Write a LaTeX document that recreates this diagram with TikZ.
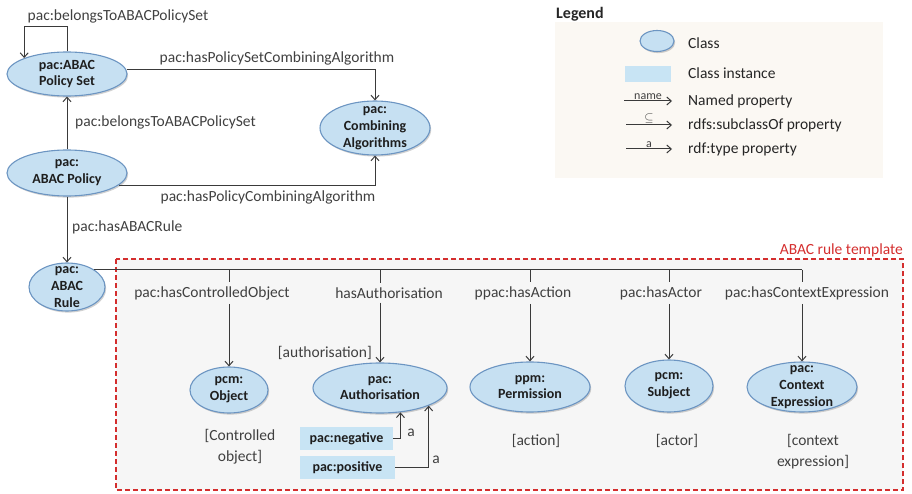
\documentclass[tikz,border=0pt]{standalone}
\usepackage{fontspec}
\setmainfont{Carlito}
\usetikzlibrary{shapes.geometric,arrows.meta,shadows,calc}
\definecolor{clsfill}{HTML}{C6E0F2}
\definecolor{clsline}{HTML}{6C95C2}
\definecolor{instfill}{HTML}{C8E4F4}
\definecolor{txt}{HTML}{404040}
\definecolor{boldtxt}{HTML}{1E1E1E}
\definecolor{wire}{HTML}{3A3A3A}
\definecolor{tplred}{HTML}{D42E2E}
\definecolor{tplfill}{HTML}{F6F6F6}
\definecolor{legfill}{HTML}{FBF8F3}

\begin{document}
\begin{tikzpicture}[x=1pt,y=-1pt,
  cls/.style={ellipse, draw=clsline, fill=clsfill, line width=1.1pt, inner sep=0pt,
    drop shadow={shadow xshift=1.2pt, shadow yshift=-1.6pt, opacity=.3, fill=black!60}},
  ctext/.style={font=\bfseries\fontsize{14}{16.8}\selectfont, text=boldtxt, align=center, inner sep=0pt},
  lbl/.style={font=\fontsize{15.5}{21}\selectfont, text=txt, inner sep=4pt, align=center},
  leglbl/.style={font=\fontsize{15.5}{19}\selectfont, text=black!85, inner sep=2pt, anchor=west},
  inst/.style={fill=instfill, minimum height=23pt, inner sep=0pt, text=boldtxt,
    font=\bfseries\fontsize{14}{17}\selectfont},
  wirestyle/.style={draw=wire, line width=1pt},
  arr/.style={wirestyle, -{Straight Barb[length=4.5pt,width=8pt]}},
  tiny/.style={font=\fontsize{12}{14}\selectfont, text=txt, inner sep=1pt, anchor=south}
]
\useasboundingbox (0,0) rectangle (912,494);

% panels
\fill[legfill] (555,22) rectangle (883,178);
\draw[tplred, fill=tplfill, line width=1.3pt, dash pattern=on 5pt off 3pt] (116,259) rectangle (903,490);
\node[lbl, text=tplred, anchor=east, inner sep=1pt] (tpllab) at (904,250) {ABAC rule template};

% classes
\node[cls, minimum width=120pt, minimum height=44pt, label={[ctext]center:{pac:ABAC\\Policy Set}}] (ps) at (67,74) {};
\node[cls, minimum width=110pt, minimum height=54pt, label={[ctext]center:{pac:\\Combining\\Algorithms}}] (ca) at (375,128) {};
\node[cls, minimum width=120pt, minimum height=46pt, label={[ctext]center:{pac:\\ABAC Policy}}] (pol) at (67,173) {};
\node[cls, minimum width=76pt, minimum height=48pt, label={[ctext]center:{pac:\\ABAC\\Rule}}] (rule) at (67,287) {};
\node[cls, minimum width=78pt, minimum height=46pt, label={[ctext]center:{pcm:\\Object}}] (ob) at (229,390) {};
\node[cls, minimum width=134pt, minimum height=50pt, label={[ctext]center:{pac:\\Authorisation}}] (au) at (380,388) {};
\node[cls, minimum width=120pt, minimum height=50pt, label={[ctext]center:{ppm:\\Permission}}] (pe) at (530,387) {};
\node[cls, minimum width=88pt, minimum height=52pt, label={[ctext]center:{pcm:\\Subject}}] (su) at (669,386) {};
\node[cls, minimum width=110pt, minimum height=50pt, label={[ctext]center:{pac:\\Context\\Expression}}] (ce) at (802,387) {};

% class instances
\node[inst, minimum width=93pt] (neg) at (346.5,438.5) {pac:negative};
\node[inst, minimum width=95pt] (pos) at (347.5,467.5) {pac:positive};

% property labels
\node[lbl] (lself) at (118,16) {pac:belongsToABACPolicySet};
\node[lbl] (lpsca) at (277,58) {pac:hasPolicySetCombiningAlgorithm};
\node[lbl, anchor=west] (lpolps) at (71,122) {pac:belongsToABACPolicySet};
\node[lbl] (lpolca) at (268,197) {pac:hasPolicyCombiningAlgorithm};
\node[lbl, anchor=west] (lrule) at (68,227) {pac:hasABACRule};
\node[lbl] (lco) at (212,293) {pac:hasControlledObject};
\node[lbl] (lau) at (389,293) {hasAuthorisation};
\node[lbl] (lac) at (523,293) {ppac:hasAction};
\node[lbl] (lact) at (661,293) {pac:hasActor};
\node[lbl] (lctx) at (807,293) {pac:hasContextExpression};

% role annotations
\node[lbl, anchor=east, inner sep=1pt] (rau) at (373,353) {[authorisation]};
\node[lbl] (rco) at (240,447) {[Controlled\\object]};
\node[lbl] (rac) at (536,441) {[action]};
\node[lbl] (ract) at (677,441) {[actor]};
\node[lbl] (rctx) at (813,452) {[context\\expression]};

% policy-level properties
\draw[arr] (ps.north) -- ++(0,-25) -| (ps.north west);
\draw[arr] (ps.4) -| (ca.north);
\draw[arr] (pol.north) -- (ps.south);
\draw[arr] (pol.-13) -| (ca.south);
\draw[arr] (pol.south) -- (rule.north);

% rule template properties
\draw[wirestyle] (rule.north east) -- (rule.north east -| ce.north);
\foreach \t/\l in {ob/lco, au/lau, pe/lac, su/lact, ce/lctx} {
  \draw[wirestyle] (rule.north east -| \t.north) -- (\l.north -| \t.north);
  \draw[arr] (\l.south -| \t.north) -- (\t.north);
}

% rdf:type links
\draw[arr] (neg.east) -| (au.-50);
\draw[arr] (pos.east) -| (au.-20);
\node[lbl, inner sep=1pt] (ta1) at (411,433) {a};
\node[lbl, inner sep=1pt] (ta2) at (436,460) {a};

% legend
\node[font=\bfseries\fontsize{16}{19}\selectfont, text=black!85, anchor=west, inner sep=1pt] (legt) at (555,14) {Legend};
\node[cls, minimum width=34pt, minimum height=21pt] (lgcls) at (657,41) {};
\node[leglbl] (lgclst) at (686,43) {Class};
\node[fill=instfill, minimum width=46pt, minimum height=16pt, inner sep=0pt] (lginst) at (648,74) {};
\node[leglbl] (lginstt) at (686,73) {Class instance};
\coordinate (n1) at (624,101); \coordinate (n2) at (672,101);
\draw[arr] (n1) -- node[tiny] (lgname) {name} (n2);
\node[leglbl] (lgnamet) at (686,101) {Named property};
\coordinate (s1) at (626,125); \coordinate (s2) at (672,125);
\draw[arr] (s1) -- node[tiny, font=\fontsize{13}{14}\selectfont, text=black!80] (lgsub) {$\subseteq$} (s2);
\node[leglbl] (lgsubt) at (686,125) {rdfs:subclassOf property};
\coordinate (a1) at (626,149); \coordinate (a2) at (672,149);
\draw[arr] (a1) -- node[tiny] (lga) {a} (a2);
\node[leglbl] (lgat) at (686,149) {rdf:type property};
\end{tikzpicture}
\end{document}
